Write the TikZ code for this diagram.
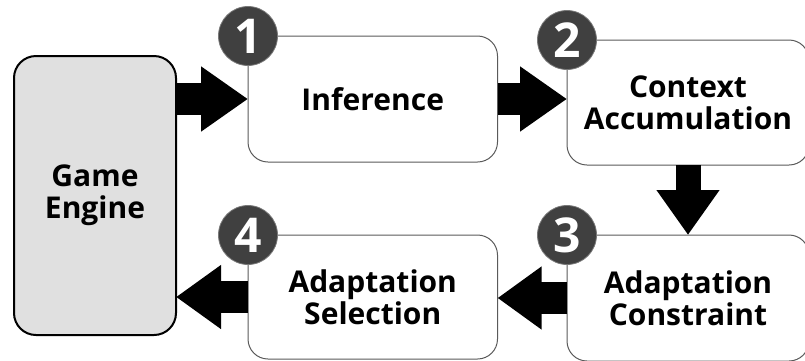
\documentclass[tikz,border=0pt]{standalone}
\usepackage{fontspec}
\setmainfont{Open Sans}
\usetikzlibrary{arrows.meta,calc}
\definecolor{gefill}{HTML}{E0E0E0}
\definecolor{circ}{HTML}{404040}
\definecolor{edge}{HTML}{5A5A5A}
\tikzset{
  stage/.style={draw=edge, line width=1pt, rounded corners=20pt, fill=white,
    align=center, inner sep=0pt, outer sep=0pt,
    font=\bfseries\fontsize{30}{32}\selectfont},
  engine/.style={draw=black, line width=2pt, rounded corners=22pt, fill=gefill,
    align=center, inner sep=0pt, outer sep=0pt,
    font=\bfseries\fontsize{30}{32}\selectfont},
  badge/.style={circle, fill=circ, draw=circ!70!white, line width=0.8pt,
    minimum size=59pt, inner sep=0pt, text=white,
    font=\bfseries\fontsize{48}{48}\selectfont},
  blockarrow/.style={line width=32pt, -{Triangle[width=62pt,length=47pt]}},
}
\begin{document}
\begin{tikzpicture}[x=1pt,y=-1pt]
\useasboundingbox (0,0) rectangle (805,360);
\node[engine, minimum width=162pt, minimum height=279pt] (ge) at (95,195.5) {Game\\Engine};
\node[stage, minimum width=249.5pt, minimum height=126pt] (inf) at (372.75,99) {Inference};
\node[stage, minimum width=242pt, minimum height=125pt] (ctx) at (688,102.5) {Context\\Accumulation};
\node[stage, minimum width=242pt, minimum height=126pt] (con) at (688,298) {Adaptation\\Constraint};
\node[stage, minimum width=249.5pt, minimum height=124pt] (sel) at (372.75,297) {Adaptation\\Selection};
\node[badge] (b1) at (inf.north west) {1};
\node[badge] (b2) at (ctx.north west) {2};
\node[badge] (b3) at (con.north west) {3};
\node[badge] (b4) at (sel.north west) {4};
\draw[blockarrow] (ge.east |- inf.west) -- (inf.west);
\draw[blockarrow] (inf.east) -- (inf.east -| ctx.west);
\draw[blockarrow, line width=25pt, -{Triangle[width=60pt,length=45pt]}] (ctx.south) -- (ctx.south |- con.north);
\draw[blockarrow, -{Triangle[width=60pt,length=44pt]}] (con.west) -- (con.west -| sel.east);
\draw[blockarrow, -{Triangle[width=61pt,length=45pt]}] (sel.west) -- (sel.west -| ge.east);
\end{tikzpicture}
\end{document}
